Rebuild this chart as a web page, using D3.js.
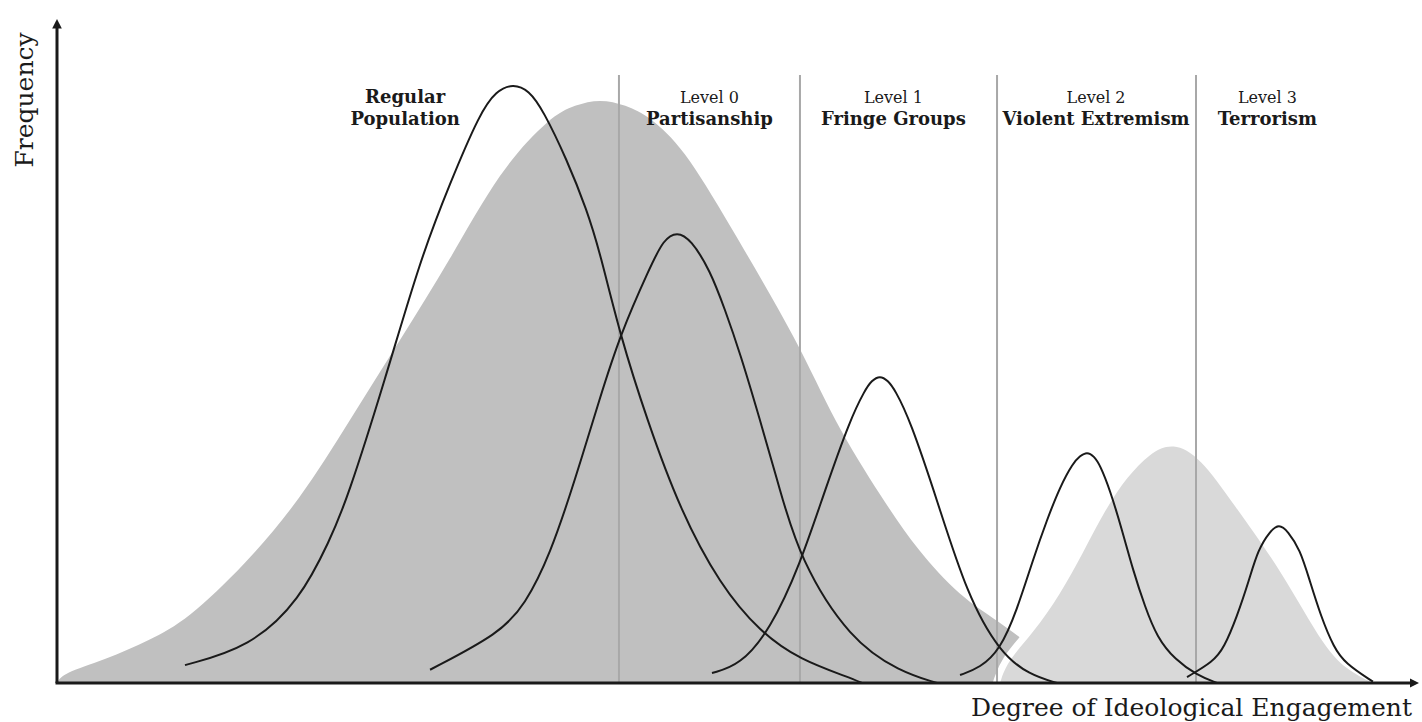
<!DOCTYPE html>
<html>
<head>
<meta charset="utf-8">
<script src="https://cdn.jsdelivr.net/npm/d3@7"></script>
<style>
  body { margin: 0; background: #fff; }
  text { font-family: "DejaVu Serif", "Liberation Serif", serif; fill: #1a1a1a; }
</style>
</head>
<body>
<div id="chart"></div>
<script>
// engagement (0-100) / frequency (0-100) readings
var totalPopulation = [
  [0, 0], [0.44, 1.5], [3.53, 3.5], [6.84, 6.5], [9.56, 9.5], [13.82, 17.8],
  [17.87, 27.6], [21.54, 39.7], [25.22, 51.7], [28.9, 63.8], [32.57, 77.4],
  [36.25, 85.4], [38.1, 87.2], [39.93, 88.1], [41.8, 87.2], [43.6, 85.4],
  [46.03, 80.8], [49.26, 69.8], [54.63, 51.0], [57.06, 39.7], [60.74, 27.6],
  [63.24, 20.1], [66.4, 13.0], [69.34, 9.2], [71.54, 5.7], [73.75, 2.7], [76.69, 0]
];
var extremePopulation = [
  [69.34, 0], [69.85, 3.2], [71.76, 7.5], [73.75, 13.3], [75.44, 19.6],
  [77.06, 26.1], [78.68, 31.1], [80.37, 34.7], [82.06, 36.3], [84.04, 34.1],
  [86.47, 27.1], [90.15, 16.6], [93.24, 5.0], [95.07, 1.7], [96.76, 0]
];

var regularCurve = [
  [9.41, 2.7], [14.19, 5.4], [17.87, 12.5], [20.07, 21.6], [21.32, 27.6],
  [24.12, 45.7], [26.69, 63.8], [28.9, 75.4], [31.1, 86.0], [32.3, 89.3],
  [33.53, 90.4], [34.7, 89.4], [35.74, 86.4], [37.5, 78.9], [38.97, 71.3],
  [39.93, 64.9], [41.4, 52.5], [43.38, 39.7], [45.81, 26.1], [48.75, 14.8],
  [51.69, 7.7], [54.63, 3.5], [58.31, 0.8], [59.19, 0]
];
var partisanCurve = [
  [27.43, 2.0], [32.57, 7.5], [34.41, 11.8], [36.25, 19.3], [38.09, 30.6],
  [39.93, 43.1], [41.4, 52.5], [43.6, 62.7], [44.6, 66.9], [45.59, 68.1],
  [46.6, 66.9], [48.01, 62.3], [49.12, 56.3], [50.22, 49.8], [51.69, 39.7],
  [53.16, 29.1], [54.63, 18.6], [58.31, 6.5], [61.99, 1.7], [64.71, 0]
];
var fringeCurve = [
  [48.16, 1.5], [50.22, 2.7], [52.43, 8.0], [54.63, 17.8], [56.47, 29.1],
  [58.31, 39.7], [59.41, 44.2], [59.9, 45.6], [60.51, 46.4], [61.1, 45.6],
  [61.62, 44.2], [62.72, 39.7], [64.71, 27.6], [66.91, 13.3], [69.34, 4.5],
  [71.54, 1.2], [73.53, 0]
];
var violentCurve = [
  [66.4, 1.2], [67.87, 2.3], [69.34, 5.0], [70.59, 11.0], [71.76, 18.6],
  [72.79, 24.6], [73.75, 29.6], [74.71, 33.2], [75.2, 34.2], [75.74, 34.9],
  [76.25, 34.2], [76.69, 32.9], [77.43, 29.1], [78.31, 23.1], [79.12, 17.0],
  [80.0, 11.5], [80.88, 6.9], [82.21, 3.5], [83.82, 1.2], [85.29, 0]
];
var terrorCurve = [
  [83.09, 0.9], [85.0, 3.2], [85.81, 5.3], [86.76, 10.0], [87.65, 15.5],
  [88.31, 20.1], [89.19, 22.9], [89.85, 24.0], [90.51, 22.9], [91.4, 20.1],
  [92.06, 15.8], [92.94, 10.0], [93.9, 5.3], [94.71, 3.0], [96.76, 0.2]
];

var dividers = [41.32, 54.63, 69.12, 83.75];
var levelNames = ["", "Level 0", "Level 1", "Level 2", "Level 3"];
var groupNames = [["Regular", "Population"], ["Partisanship"], ["Fringe Groups"],
                  ["Violent Extremism"], ["Terrorism"]];
var labelCenters = [25.6, 47.97, 61.5, 76.4, 89.0];

(function() {
  var width = 1422, height = 722;

  var svg = d3
    .select("#chart")
    .append("svg")
    .attr("width", width)
    .attr("height", height);

  var x = d3.scaleLinear().domain([0, 100]).range([57, 1417]);
  var y = d3.scaleLinear().domain([0, 100]).range([683, 20]);

  var area = d3.area()
    .x(d => x(d[0]))
    .y0(y(0))
    .y1(d => y(d[1]))
    .curve(d3.curveBasis);

  var line = d3.line()
    .x(d => x(d[0]))
    .y(d => y(d[1]))
    .curve(d3.curveBasis);

  svg.append("path")
    .datum(totalPopulation)
    .attr("d", area)
    .attr("fill", "#c0c0c0");

  // light area gets a white halo, shows where it sits on the big one
  svg.append("path")
    .datum(extremePopulation)
    .attr("d", area)
    .attr("fill", "#d9d9d9")
    .attr("stroke", "#fff")
    .attr("stroke-width", 14)
    .attr("stroke-linejoin", "round")
    .attr("paint-order", "stroke");

  svg.selectAll(".divider")
    .data(dividers)
    .enter()
    .append("line")
    .attr("class", "divider")
    .attr("x1", d => x(d))
    .attr("x2", d => x(d))
    .attr("y1", y(91.7))
    .attr("y2", y(0))
    .attr("stroke", "#a8a8a8")
    .attr("stroke-width", 2);

  [regularCurve, partisanCurve, fringeCurve, violentCurve, terrorCurve].forEach(c => {
    svg.append("path")
      .datum(c)
      .attr("d", line)
      .attr("fill", "none")
      .attr("stroke", "#1a1a1a")
      .attr("stroke-width", 2);
  });

  // axes with arrow heads
  var defs = svg.append("defs");
  defs.append("marker")
    .attr("id", "arrow")
    .attr("viewBox", "0 0 10 10")
    .attr("refX", 2)
    .attr("refY", 5)
    .attr("markerWidth", 3.2)
    .attr("markerHeight", 3.2)
    .attr("orient", "auto")
    .append("path")
    .attr("d", "M0,0 L10,5 L0,10 z")
    .attr("fill", "#1a1a1a");

  svg.append("line")
    .attr("x1", x(0)).attr("y1", y(0))
    .attr("x2", x(0)).attr("y2", y(99))
    .attr("stroke", "#1a1a1a")
    .attr("stroke-width", 3)
    .attr("marker-end", "url(#arrow)");

  svg.append("line")
    .attr("x1", x(0) - 1.5).attr("y1", y(0))
    .attr("x2", x(99.6)).attr("y2", y(0))
    .attr("stroke", "#1a1a1a")
    .attr("stroke-width", 3)
    .attr("marker-end", "url(#arrow)");

  svg.append("text")
    .attr("transform", `translate(${33}, ${100}) rotate(-90)`)
    .attr("text-anchor", "middle")
    .style("font-size", "25px")
    .text("Frequency");

  svg.append("text")
    .attr("x", 1412)
    .attr("y", 716)
    .attr("text-anchor", "end")
    .style("font-size", "25px")
    .text("Degree of Ideological Engagement");

  // group labels
  var labels = svg.selectAll(".group-label")
    .data(groupNames)
    .enter()
    .append("text")
    .attr("class", "group-label")
    .attr("text-anchor", "middle")
    .attr("x", (d, i) => x(labelCenters[i]))
    .attr("y", 103);

  labels.each(function(d, i) {
    var self = d3.select(this);
    var lines = i === 0 ? d : [levelNames[i], d[0]];
    lines.forEach((t, j) => {
      var bold = i === 0 || j === 1;
      self.append("tspan")
        .attr("x", x(labelCenters[i]))
        .attr("dy", j === 0 ? 0 : 22)
        .style("font-weight", bold ? "bold" : "normal")
        .style("font-size", bold ? "18px" : "16px")
        .text(t);
    });
  });
})();
</script>
</body>
</html>
